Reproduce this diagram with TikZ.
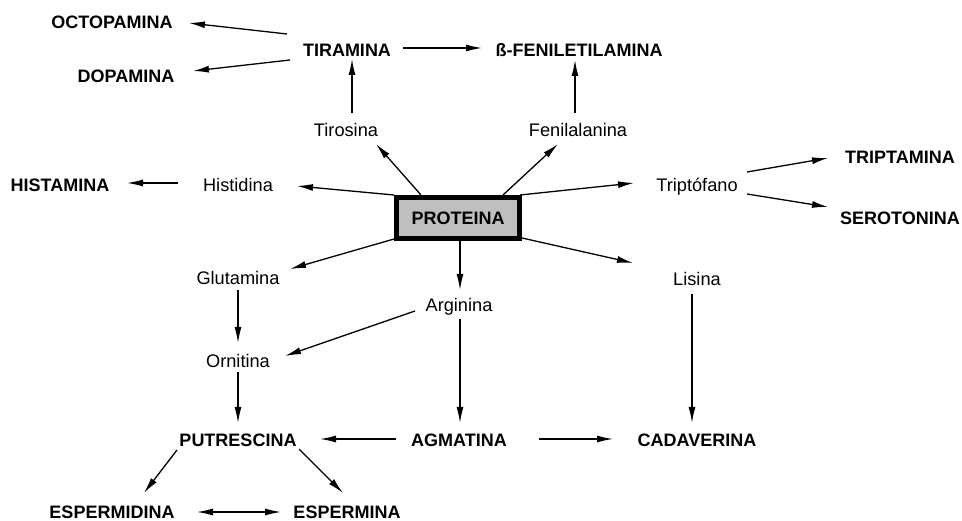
\documentclass[tikz,border=0pt]{standalone}
\usepackage{fontspec}
\setmainfont{Liberation Sans}
\usetikzlibrary{arrows.meta}
\begin{document}
\begin{tikzpicture}[x=1pt,y=-1pt,
  every node/.style={inner sep=0pt,outer sep=0pt,text height=13pt,text depth=0pt},
  amine/.style={font=\fontsize{18}{20}\selectfont\bfseries},
  acid/.style={font=\fontsize{18.2}{20}\selectfont},
  protbox/.style={draw=black,line width=5pt,fill=black!25,minimum width=123pt,minimum height=41pt,font=\fontsize{18}{20}\selectfont\bfseries},
  arr/.style={line width=1.3pt,-{Latex[length=16pt,width=7pt]}},
  darr/.style={line width=1.3pt,{Latex[length=16pt,width=7pt]}-{Latex[length=16pt,width=7pt]}}]
\useasboundingbox (0,0) rectangle (962,521);
% nodes
\node[amine] (oct) at (112,22) {OCTOPAMINA};
\node[amine] (tir) at (347,50) {TIRAMINA};
\node[amine] (dop) at (126,76) {DOPAMINA};
\node[acid] (tyr) at (346,130) {Tirosina};
\node[amine] (hista) at (60,185) {HISTAMINA};
\node[acid] (hisd) at (238,185) {Histidina};
\node[amine] (fen) at (579,50) {ß-FENILETILAMINA};
\node[acid] (fenal) at (578,130) {Fenilalanina};
\node[acid] (trp) at (697,185) {Triptófano};
\node[amine] (trpm) at (900,157) {TRIPTAMINA};
\node[amine] (ser) at (900,218) {SEROTONINA};
\node[protbox] (prot) at (458,218) {PROTEINA};
\node[acid] (glu) at (238,278) {Glutamina};
\node[acid] (orn) at (238,361) {Ornitina};
\node[acid] (arg) at (459,305.5) {Arginina};
\node[acid] (lis) at (697,279) {Lisina};
\node[amine] (put) at (238,440) {PUTRESCINA};
\node[amine] (agm) at (459,440) {AGMATINA};
\node[amine] (cad) at (697,440) {CADAVERINA};
\node[amine] (espd) at (112,512) {ESPERMIDINA};
\node[amine] (espm) at (347,512) {ESPERMINA};
% connectors
\draw[arr] ([shift={(-60,-16)}]tir.center) -- ([shift={(77,1)}]oct.center);
\draw[arr] ([shift={(-57,10)}]tir.center) -- ([shift={(67,-5)}]dop.center);
\draw[arr] ([shift={(56,-2)}]tir.center) -- ([shift={(-97,-2)}]fen.center);
\draw[arr] ([shift={(6,-17)}]tyr.center) -- ([shift={(5,9)}]tir.center);
\draw[arr] ([shift={(-3,-17)}]fenal.center) -- ([shift={(-4,10)}]fen.center);
\draw[arr] ([shift={(-37,-23)}]prot.center) -- ([shift={(30,14)}]tyr.center);
\draw[arr] ([shift={(45,-23)}]prot.center) -- ([shift={(-20,14)}]fenal.center);
\draw[arr] ([shift={(-64,-23)}]prot.center) -- ([shift={(59,1)}]hisd.center);
\draw[arr] ([shift={(-60,-2)}]hisd.center) -- ([shift={(67,-2)}]hista.center);
\draw[arr] ([shift={(62,-23)}]prot.center) -- ([shift={(-63,-2)}]trp.center);
\draw[arr] ([shift={(50,-13)}]trp.center) -- ([shift={(-72,1)}]trpm.center);
\draw[arr] ([shift={(50,9)}]trp.center) -- ([shift={(-72,-11)}]ser.center);
\draw[arr] ([shift={(64,20)}]prot.center) -- ([shift={(-64,-16)}]lis.center);
\draw[arr] ([shift={(-64,21)}]prot.center) -- ([shift={(52,-9)}]glu.center);
\draw[arr] ([shift={(2,23)}]prot.center) -- ([shift={(1,-15.5)}]arg.center);
\draw[arr] ([shift={(0,12)}]glu.center) -- ([shift={(0,-18)}]orn.center);
\draw[arr] ([shift={(-44,5.5)}]arg.center) -- ([shift={(47,-5)}]orn.center);
\draw[arr] ([shift={(0,11)}]orn.center) -- ([shift={(0,-17)}]put.center);
\draw[arr] ([shift={(1,13.5)}]arg.center) -- ([shift={(1,-17)}]agm.center);
\draw[arr] ([shift={(-5,15)}]lis.center) -- ([shift={(-5,-17)}]cad.center);
\draw[arr] ([shift={(-63,-1)}]agm.center) -- ([shift={(82,-1)}]put.center);
\draw[arr] ([shift={(80,-1)}]agm.center) -- ([shift={(-84,-1)}]cad.center);
\draw[arr] ([shift={(-61,10)}]put.center) -- ([shift={(32,-19)}]espd.center);
\draw[arr] ([shift={(61,9)}]put.center) -- ([shift={(-4,-19)}]espm.center);
\draw[darr] ([shift={(85,0)}]espd.center) -- ([shift={(-66,0)}]espm.center);
\end{tikzpicture}
\end{document}
